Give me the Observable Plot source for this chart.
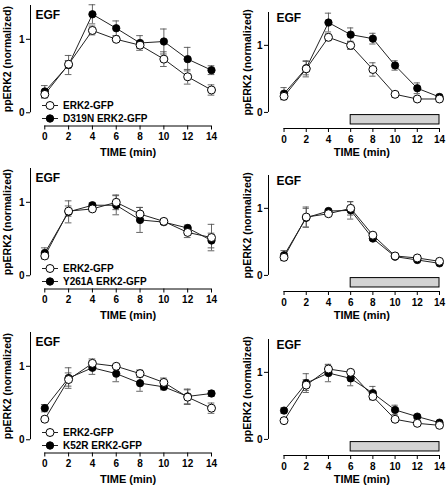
<!DOCTYPE html>
<html><head><meta charset="utf-8">
<script src="https://cdn.jsdelivr.net/npm/d3@7"></script>
<script src="https://cdn.jsdelivr.net/npm/@observablehq/plot@0.6"></script>
<style>
body{margin:0;background:#fff;}
#fig{position:relative;width:446px;height:488px;overflow:hidden;font-family:"Liberation Sans",Arial,Helvetica,sans-serif;}
.panel{position:absolute;}
.legend{position:absolute;font-weight:bold;font-size:10px;line-height:13px;color:#000;}
.legend .row{display:flex;align-items:center;height:13px;}
.legend svg{margin-right:5px;}
</style></head><body><div id="fig"></div>
<script>
// ---------- data ----------
const times = [0, 2, 4, 6, 8, 10, 12, 14];
const yTicks = [0, 1];
const controlName = "ERK2-GFP";
const mutantNames = ["D319N ERK2-GFP", "Y261A ERK2-GFP", "K52R ERK2-GFP"];
const stimulusLabel = "EGF";
const xLabel = "TIME (min)";
const yLabel = "ppERK2 (normalized)";
const inhibitorWindow = [6, 14];

// row 1 : D319N
const aCtrl    = [0.25, 0.66, 1.12, 1.00, 0.92, 0.73, 0.49, 0.31];
const aCtrlErr = [0.05, 0.05, 0.06, 0.02, 0.04, 0.10, 0.10, 0.07];
const aMut     = [0.29, 0.65, 1.34, 1.15, 0.95, 0.97, 0.73, 0.58];
const aMutErr  = [0.08, 0.13, 0.13, 0.10, 0.10, 0.17, 0.16, 0.06];
const bCtrl    = [0.24, 0.65, 1.12, 1.00, 0.64, 0.27, 0.20, 0.20];
const bCtrlErr = [0.05, 0.12, 0.05, 0.06, 0.10, 0.04, 0.03, 0.04];
const bMut     = [0.28, 0.66, 1.34, 1.16, 1.10, 0.70, 0.36, 0.23];
const bMutErr  = [0.09, 0.10, 0.14, 0.10, 0.08, 0.07, 0.08, 0.04];
// row 2 : Y261A
const cCtrl    = [0.27, 0.88, 0.91, 1.00, 0.84, 0.74, 0.59, 0.52];
const cCtrlErr = [0.04, 0.07, 0.03, 0.10, 0.09, 0.03, 0.07, 0.18];
const cMut     = [0.31, 0.87, 0.96, 0.96, 0.76, 0.73, 0.65, 0.48];
const cMutErr  = [0.07, 0.15, 0.03, 0.13, 0.17, 0.03, 0.04, 0.10];
const dCtrl    = [0.27, 0.87, 0.92, 1.00, 0.60, 0.29, 0.26, 0.21];
const dCtrlErr = [0.05, 0.15, 0.03, 0.10, 0.03, 0.02, 0.02, 0.02];
const dMut     = [0.30, 0.86, 0.96, 0.97, 0.55, 0.28, 0.23, 0.18];
const dMutErr  = [0.07, 0.14, 0.02, 0.13, 0.03, 0.02, 0.02, 0.02];
// row 3 : K52R
const eCtrl    = [0.28, 0.82, 1.04, 1.00, 0.90, 0.78, 0.58, 0.43];
const eCtrlErr = [0.03, 0.09, 0.06, 0.02, 0.05, 0.06, 0.10, 0.07];
const eMut     = [0.43, 0.84, 0.98, 0.90, 0.77, 0.72, 0.59, 0.63];
const eMutErr  = [0.05, 0.14, 0.09, 0.11, 0.11, 0.04, 0.10, 0.04];
const fCtrl    = [0.28, 0.81, 1.05, 1.00, 0.64, 0.30, 0.24, 0.21];
const fCtrlErr = [0.03, 0.08, 0.06, 0.02, 0.04, 0.03, 0.02, 0.02];
const fMut     = [0.43, 0.84, 0.99, 0.91, 0.69, 0.44, 0.34, 0.25];
const fMutErr  = [0.04, 0.14, 0.13, 0.11, 0.10, 0.07, 0.03, 0.02];

// ---------- layout / style ----------
const rowTops = [0, 163, 327];
const colLefts = [0, 223];
const panelW = 223, panelH = 161;
const FONT = '"Liberation Sans", Arial, Helvetica, sans-serif';
const capHalf = 0.28;
const layouts = [
  { // left column (with legend)
    marginLeft: 30, marginRight: 12, marginTop: 5, marginBottom: 35.5,
    xDomain: [-1.2, 14], yDomain: [-0.18, 1.46],
    ylabDx: -23, egfDx: 5, egfDy: 10, titleDy: 26.5, legend: true
  },
  { // right column (with inhibitor bar)
    marginLeft: 45, marginRight: 7, marginTop: 12, marginBottom: 33,
    xDomain: [-1.4, 14], yDomain: [-0.24, 1.49],
    ylabDx: -21, egfDx: 8, egfDy: 6, titleDy: 24, bar: [-0.04, -0.18]
  }
];

const panels = [
  [aCtrl, aCtrlErr, aMut, aMutErr, 0, 0],
  [bCtrl, bCtrlErr, bMut, bMutErr, 0, 1],
  [cCtrl, cCtrlErr, cMut, cMutErr, 1, 0],
  [dCtrl, dCtrlErr, dMut, dMutErr, 1, 1],
  [eCtrl, eCtrlErr, eMut, eMutErr, 2, 0],
  [fCtrl, fCtrlErr, fMut, fMutErr, 2, 1]
];

const fig = document.getElementById("fig");

function toRows(means, errs, series) {
  return times.map((t, i) => ({ t, m: means[i], e: errs[i], series }));
}

for (const [ctrl, ctrlErr, mut, mutErr, row, col] of panels) {
  const L = layouts[col];
  const c = toRows(ctrl, ctrlErr, "ctrl");
  const m = toRows(mut, mutErr, "mut");
  const all = m.concat(c);
  const xMin = L.xDomain[0];
  const yMin = L.yDomain[0], yMax = L.yDomain[1];
  const tMid = (d3.min(times) + d3.max(times)) / 2;
  const marks = [];
  if (L.bar) {
    marks.push(Plot.rect([inhibitorWindow], {
      x1: d => d[0], x2: d => d[1], y1: L.bar[0], y2: L.bar[1],
      fill: "#d3d3d3", stroke: "#000", strokeWidth: 1
    }));
  }
  marks.push(
    Plot.ruleX([xMin], { y1: 0, y2: yMax, stroke: "#000", strokeWidth: 1 }),
    Plot.ruleY([yMin], { x1: d3.min(times), x2: d3.max(times), stroke: "#000", strokeWidth: 1 }),
    Plot.axisY({ ticks: yTicks, tickFormat: d3.format("d"), tickSize: 4, tickPadding: 2, label: null, fontSize: 10, fontWeight: "bold" }),
    Plot.axisX({ ticks: times, tickFormat: d3.format("d"), tickSize: 4, tickPadding: 3, label: null, fontSize: 10, fontWeight: "bold" }),
    Plot.text([xLabel], { x: tMid, frameAnchor: "bottom", lineAnchor: "middle", textAnchor: "middle", dy: L.titleDy, fontSize: 11, fontWeight: "bold" }),
    Plot.text([yLabel], { y: yMax / 2, frameAnchor: "left", textAnchor: "middle", lineAnchor: "middle", rotate: -90, dx: L.ylabDx, fontSize: 10.5, fontWeight: "bold" }),
    Plot.text([stimulusLabel], { frameAnchor: "top-left", textAnchor: "start", lineAnchor: "middle", dx: L.egfDx, dy: L.egfDy, fontSize: 12, fontWeight: "bold" }),
    Plot.ruleX(all, { x: "t", y1: d => d.m - d.e, y2: d => d.m + d.e, stroke: "#555", strokeWidth: 0.9 }),
    Plot.ruleY(all, { y: d => d.m + d.e, x1: d => d.t - capHalf, x2: d => d.t + capHalf, stroke: "#555", strokeWidth: 0.9 }),
    Plot.ruleY(all, { y: d => d.m - d.e, x1: d => d.t - capHalf, x2: d => d.t + capHalf, stroke: "#555", strokeWidth: 0.9 }),
    Plot.line(m, { x: "t", y: "m", stroke: "#222", strokeWidth: 1 }),
    Plot.line(c, { x: "t", y: "m", stroke: "#222", strokeWidth: 1 }),
    Plot.dot(m, { x: "t", y: "m", r: 3.7, fill: "#000", stroke: "#000", strokeWidth: 0.8 }),
    Plot.dot(c, { x: "t", y: "m", r: 4, fill: "#fff", stroke: "#000", strokeWidth: 1 })
  );
  const svg = Plot.plot({
    width: panelW, height: panelH,
    marginLeft: L.marginLeft, marginRight: L.marginRight,
    marginTop: L.marginTop, marginBottom: L.marginBottom,
    x: { domain: L.xDomain },
    y: { domain: L.yDomain },
    style: { fontFamily: FONT, fontSize: "10px", fontWeight: "bold", color: "#000", background: "transparent", overflow: "visible" },
    marks
  });
  const wrap = document.createElement("div");
  wrap.className = "panel";
  wrap.style.left = colLefts[col] + "px";
  wrap.style.top = rowTops[row] + "px";
  wrap.appendChild(svg);
  fig.appendChild(wrap);

  if (L.legend) {
    const lg = document.createElement("div");
    lg.className = "legend";
    lg.style.left = (colLefts[col] + 42) + "px";
    lg.style.top = (rowTops[row] + 98.5) + "px";
    const entries = [[controlName, "#fff", 4], [mutantNames[row], "#000", 3.7]];
    for (const [name, fill, r] of entries) {
      const rowEl = document.createElement("div");
      rowEl.className = "row";
      rowEl.innerHTML = `<svg width="16" height="11"><line x1="0" x2="16" y1="5.5" y2="5.5" stroke="#222" stroke-width="1"/><circle cx="8" cy="5.5" r="${r}" fill="${fill}" stroke="#000" stroke-width="1"/></svg><span>${name}</span>`;
      lg.appendChild(rowEl);
    }
    fig.appendChild(lg);
  }
}
</script>
</body></html>
